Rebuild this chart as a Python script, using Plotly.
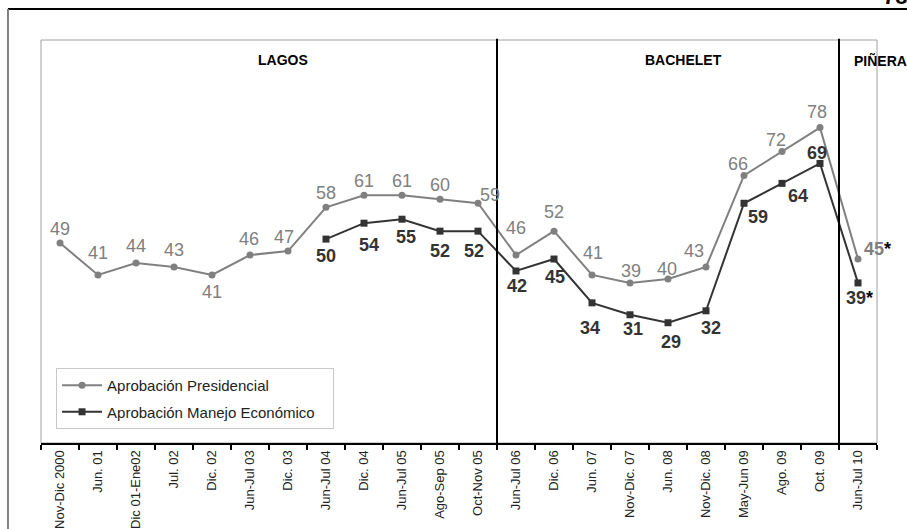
import plotly.graph_objects as go

categories = ["Nov-Dic 2000", "Jun. 01", "Dic 01-Ene02", "Jul. 02", "Dic. 02", "Jun-Jul 03",
              "Dic. 03", "Jun-Jul 04", "Dic. 04", "Jun-Jul 05", "Ago-Sep 05", "Oct-Nov 05",
              "Jun-Jul 06", "Dic. 06", "Jun. 07", "Nov-Dic. 07", "Jun. 08", "Nov-Dic. 08",
              "May-Jun 09", "Ago. 09", "Oct. 09", "Jun-Jul 10"]
presidencial = [49, 41, 44, 43, 41, 46, 47, 58, 61, 61, 60, 59, 46, 52, 41, 39, 40, 43, 66, 72, 78, 45]
economico = [None, None, None, None, None, None, None, 50, 54, 55, 52, 52, 42, 45, 34, 31, 29, 32, 59, 64, 69, 39]
periodos = ["LAGOS", "BACHELET", "PIÑERA"]
periodo_limites = [11.5, 20.5]   # boundaries between government periods (category index)
asterisco = [False] * 21 + [True]
pagina = "78"

# label offsets (pixels: dx right, dy up) - styling only
pres_off = [(0, 14), (0, 22), (0, 17), (0, 17), (0, -17), (-1, 16), (-4, 14), (0, 14), (0, 14), (0, 14),
            (0, 14), (12, 8), (0, 27), (0, 19), (1, 22), (1, 12), (-1, 10), (-12, 16), (-6, 11), (-6, 12),
            (-3, 16), (4, 10)]
eco_off = [None] * 7 + [(0, -17), (5, -22), (4, -18), (0, -20), (-4, -20), (1, -15), (1, -18), (-2, -25),
                        (3, -14), (3, -19), (5, -17), (14, -14), (16, -13), (-3, 10), (-14, -15)]
period_pos = [0.2895, 0.768, 1.0036]   # label positions (fraction of plot width)

GRAY = "#808080"
DARK = "#333333"
FONT = "Liberation Sans, Arial, sans-serif"

fig = go.Figure()
fig.add_trace(go.Scatter(
    x=categories, y=presidencial, mode="lines+markers",
    name="Aprobación Presidencial" + "&nbsp;" * 11,
    line=dict(color=GRAY, width=2), marker=dict(symbol="circle", size=7, color=GRAY),
    legendgroup="a"))
fig.add_trace(go.Scatter(
    x=categories, y=economico, mode="lines+markers",
    name="Aprobación Manejo Económico" + "&nbsp;" * 3,
    line=dict(color=DARK, width=2), marker=dict(symbol="square", size=7, color=DARK),
    legendgroup="b"))

annotations = []
for i, (c, v) in enumerate(zip(categories, presidencial)):
    dx, dy = pres_off[i]
    if asterisco[i]:
        annotations.append(dict(x=c, y=v, xref="x", yref="y", showarrow=False,
                                text=f"<b>{v}</b><b><span style='color:#000000'>*</span></b>",
                                xanchor="left", yanchor="middle", xshift=dx, yshift=dy,
                                font=dict(family=FONT, size=18, color=GRAY)))
    else:
        annotations.append(dict(x=c, y=v, xref="x", yref="y", showarrow=False, text=str(v),
                                xanchor="center", yanchor="middle", xshift=dx, yshift=dy,
                                font=dict(family=FONT, size=18, color=GRAY)))
for i, (c, v) in enumerate(zip(categories, economico)):
    if v is None:
        continue
    dx, dy = eco_off[i]
    if asterisco[i]:
        annotations.append(dict(x=c, y=v, xref="x", yref="y", showarrow=False,
                                text=f"<b>{v}</b><b><span style='color:#000000'>*</span></b>",
                                xanchor="left", yanchor="middle", xshift=dx, yshift=dy,
                                font=dict(family=FONT, size=18, color=DARK)))
    else:
        annotations.append(dict(x=c, y=v, xref="x", yref="y", showarrow=False, text=f"<b>{v}</b>",
                                xanchor="center", yanchor="middle", xshift=dx, yshift=dy,
                                font=dict(family=FONT, size=18, color=DARK)))

# period titles
for name, px in zip(periodos, period_pos):
    annotations.append(dict(x=px, y=0.95, xref="paper", yref="paper", showarrow=False,
                            text=f"<b>{name}</b>", xanchor="center", yanchor="middle",
                            font=dict(family=FONT, size=14, color="#000000")))

# page number (cropped at top, as in the source page)
annotations.append(dict(x=1.0215, y=1.072, xref="paper", yref="paper", showarrow=False,
                        text=f"<b>{pagina}</b>", xanchor="center", yanchor="bottom",
                        font=dict(family=FONT, size=22, color="#000000")))

shapes = [
    # inner gray box
    dict(type="rect", xref="paper", yref="paper", x0=0, x1=1, y0=0, y1=1,
         line=dict(color="#a0a0a0", width=1), layer="below"),
    # outer frame
    dict(type="line", xref="paper", yref="paper", x0=-0.0395, x1=1.05, y0=1.077, y1=1.077,
         line=dict(color="#000000", width=2)),
    dict(type="line", xref="paper", yref="paper", x0=-0.0395, x1=-0.0395, y0=1.077, y1=-0.22,
         line=dict(color="#808080", width=2)),
]
for b in periodo_limites:
    shapes.append(dict(type="line", xref="x", yref="paper", x0=b, x1=b, y0=0, y1=1.003,
                       line=dict(color="#000000", width=2)))

fig.update_layout(
    width=907, height=529,
    margin=dict(l=41, r=30, t=40, b=86),
    paper_bgcolor="white", plot_bgcolor="white",
    font=dict(family=FONT, size=12, color="#222222"),
    showlegend=True,
    legend=dict(x=0.018, y=0.186, xanchor="left", yanchor="top",
                bgcolor="white", bordercolor="#c8c8c8", borderwidth=1,
                font=dict(family=FONT, size=15, color="#222222"),
                tracegroupgap=4, traceorder="grouped", itemwidth=40),
    xaxis=dict(type="category", categoryorder="array", categoryarray=categories,
               range=[-0.5, 21.5], showgrid=False, zeroline=False,
               showline=True, linecolor="#000000", linewidth=2,
               ticks="outside", tickson="boundaries", ticklen=5, tickwidth=2, tickcolor="#000000",
               tickangle=-90, tickfont=dict(family=FONT, size=13, color="#222222"),
               automargin=False),
    yaxis=dict(range=[-1.2, 100], showgrid=False, zeroline=False, showticklabels=False,
               showline=False, ticks="", automargin=False),
    annotations=annotations,
    shapes=shapes,
)

fig.write_html("out.html", config={"displayModeBar": False},
               post_script="document.body.style.margin='0';document.body.style.overflow='hidden';")
